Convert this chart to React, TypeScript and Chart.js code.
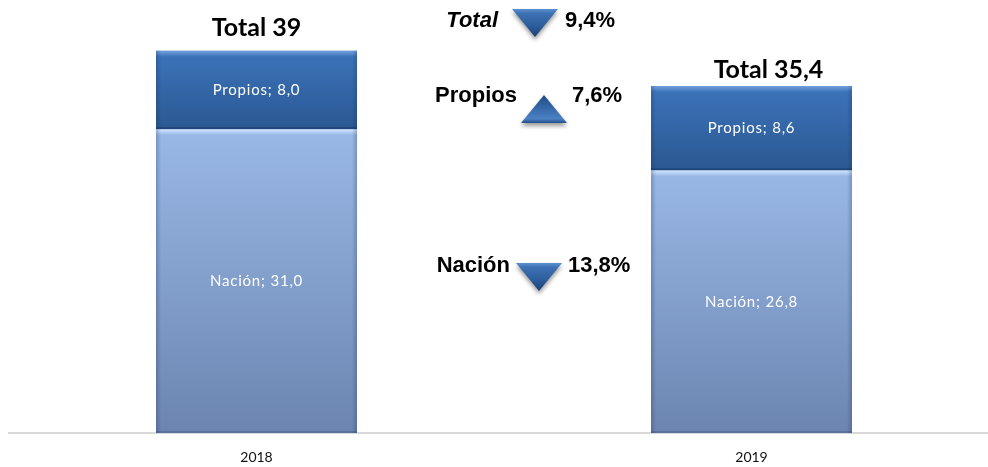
import React, { useEffect, useRef } from 'react';
import { Chart, registerables } from 'chart.js';

Chart.register(...registerables);

const years = ['2018', '2019'];
const nacion = [31.0, 26.8];
const propios = [8.0, 8.6];
const seriesNames = ['Nación', 'Propios'];
const changeLabels = ['Total', 'Propios', 'Nación'];
const changeValues = [-9.4, 7.6, -13.8];

const fmt = (v: number) => v.toFixed(1).replace('.', ',');
const fmtTotal = (v: number) => {
  const r = Math.round(v * 10) / 10;
  return Number.isInteger(r) ? String(r) : fmt(r);
};

const BAR_FONT = '"Lato", "Open Sans", sans-serif';
const ARIAL = '"Liberation Sans", Arial, sans-serif';

function drawTriangle(ctx: CanvasRenderingContext2D, cx: number, cy: number, up: boolean) {
  const w = 46, h = 28;
  const top = cy - h / 2, bot = cy + h / 2;
  ctx.save();
  ctx.beginPath();
  if (up) {
    ctx.moveTo(cx, top);
    ctx.lineTo(cx + w / 2, bot);
    ctx.lineTo(cx - w / 2, bot);
  } else {
    ctx.moveTo(cx - w / 2, top);
    ctx.lineTo(cx + w / 2, top);
    ctx.lineTo(cx, bot);
  }
  ctx.closePath();
  const g = ctx.createLinearGradient(0, top, 0, bot);
  if (up) {
    g.addColorStop(0, '#1f4a82');
    g.addColorStop(0.55, '#3a6eb0');
    g.addColorStop(0.85, '#4b80c2');
    g.addColorStop(1, '#234f8a');
  } else {
    g.addColorStop(0, '#5e90d0');
    g.addColorStop(0.15, '#3e72b4');
    g.addColorStop(0.6, '#2d5d9c');
    g.addColorStop(1, '#1a3f74');
  }
  ctx.shadowColor = 'rgba(0,0,0,0.4)';
  ctx.shadowBlur = 4;
  ctx.shadowOffsetY = 3;
  ctx.fillStyle = g;
  ctx.fill();
  ctx.restore();
}

const labelPlugin = {
  id: 'customLabels',
  afterDatasetsDraw(chart: any) {
    const ctx: CanvasRenderingContext2D = chart.ctx;
    const metas = chart.data.datasets.map((_: any, i: number) => chart.getDatasetMeta(i));

    metas.forEach((meta: any, di: number) => {
      meta.data.forEach((el: any, i: number) => {
        const left = el.x - el.width / 2;
        const top = Math.min(el.y, el.base);
        const bottom = Math.max(el.y, el.base);
        ctx.save();
        const hg = ctx.createLinearGradient(0, top, 0, top + 6);
        hg.addColorStop(0, di === 0 ? 'rgba(210,232,255,0.95)' : 'rgba(120,165,225,0.9)');
        hg.addColorStop(1, di === 0 ? 'rgba(210,232,255,0)' : 'rgba(120,165,225,0)');
        ctx.fillStyle = hg;
        ctx.fillRect(left, top, el.width, 6);
        ctx.fillStyle = di === 0 ? 'rgba(60,80,120,0.35)' : 'rgba(20,45,90,0.45)';
        ctx.fillRect(left, bottom - 2, el.width, 2);
        const sg = ctx.createLinearGradient(left, 0, left + 5, 0);
        sg.addColorStop(0, 'rgba(20,40,80,0.25)');
        sg.addColorStop(1, 'rgba(20,40,80,0)');
        ctx.fillStyle = sg;
        ctx.fillRect(left, top, 5, bottom - top);
        const sg2 = ctx.createLinearGradient(left + el.width, 0, left + el.width - 5, 0);
        sg2.addColorStop(0, 'rgba(20,40,80,0.25)');
        sg2.addColorStop(1, 'rgba(20,40,80,0)');
        ctx.fillStyle = sg2;
        ctx.fillRect(left + el.width - 5, top, 5, bottom - top);
        ctx.restore();

        const v = chart.data.datasets[di].data[i];
        ctx.save();
        ctx.fillStyle = '#ffffff';
        ctx.font = `15px ${BAR_FONT}`;
        (ctx as any).letterSpacing = '0.8px';
        ctx.textAlign = 'center';
        ctx.textBaseline = 'middle';
        ctx.fillText(`${seriesNames[di]}; ${fmt(v)}`, el.x, (top + bottom) / 2);
        ctx.restore();
      });
    });

    const totalOffsets = [{ dx: 0, dy: 23 }, { dx: 17, dy: 16 }];
    const lastMeta = metas[metas.length - 1];
    lastMeta.data.forEach((el: any, i: number) => {
      const total = nacion[i] + propios[i];
      const off = totalOffsets[i] || { dx: 0, dy: 20 };
      ctx.save();
      ctx.fillStyle = '#000000';
      ctx.font = `bold 25px ${BAR_FONT}`;
      ctx.textAlign = 'center';
      ctx.textBaseline = 'middle';
      ctx.fillText(`Total ${fmtTotal(total)}`, el.x + off.dx, el.y - off.dy);
      ctx.restore();
    });

    const rows = [
      { labelRight: 498, textY: 21, triX: 535, triY: 23, valueLeft: 565, italic: true },
      { labelRight: 517, textY: 96, triX: 544, triY: 109, valueLeft: 572, italic: false },
      { labelRight: 510, textY: 266, triX: 539, triY: 277, valueLeft: 568, italic: false },
    ];
    rows.forEach((r, i) => {
      ctx.save();
      ctx.fillStyle = '#000000';
      ctx.textBaseline = 'middle';
      ctx.font = `${r.italic ? 'italic ' : ''}bold 22px ${ARIAL}`;
      ctx.textAlign = 'right';
      ctx.fillText(changeLabels[i], r.labelRight, r.textY);
      ctx.font = `bold 22px ${ARIAL}`;
      ctx.textAlign = 'left';
      ctx.fillText(`${fmt(Math.abs(changeValues[i]))}%`, r.valueLeft, r.textY);
      ctx.restore();
      drawTriangle(ctx, r.triX, r.triY, changeValues[i] > 0);
    });
  },
};

function segGradient(ctx: any, stops: [string, string]) {
  const chart = ctx.chart;
  if (!chart.chartArea) return stops[0];
  const yScale = chart.scales.y;
  const i = ctx.dataIndex;
  const di = ctx.datasetIndex;
  let lo = 0, hi = 0;
  if (di === 0) { lo = 0; hi = nacion[i]; } else { lo = nacion[i]; hi = nacion[i] + propios[i]; }
  const yTop = yScale.getPixelForValue(hi);
  const yBot = yScale.getPixelForValue(lo);
  const g = chart.ctx.createLinearGradient(0, yTop, 0, yBot);
  g.addColorStop(0, stops[0]);
  g.addColorStop(1, stops[1]);
  return g;
}

export default function App() {
  const ref = useRef<HTMLCanvasElement | null>(null);

  useEffect(() => {
    if (!ref.current) return;
    const chart = new Chart(ref.current, {
      type: 'bar',
      data: {
        labels: years,
        datasets: [
          {
            label: seriesNames[0],
            data: nacion,
            backgroundColor: (c: any) => segGradient(c, ['#9ab8e6', '#6b85b0']),
            borderWidth: 0,
            barPercentage: 1,
            categoryPercentage: 0.406,
          },
          {
            label: seriesNames[1],
            data: propios,
            backgroundColor: (c: any) => segGradient(c, ['#3c74bb', '#2b5892']),
            borderWidth: 0,
            barPercentage: 1,
            categoryPercentage: 0.406,
          },
        ],
      },
      options: {
        animation: false,
        responsive: true,
        maintainAspectRatio: false,
        layout: { padding: { left: 9, right: 1, top: 41, bottom: 0 } },
        plugins: { legend: { display: false }, tooltip: { enabled: false } },
        scales: {
          x: {
            stacked: true,
            grid: { display: false, drawTicks: false },
            border: { display: true, color: '#d9d9d9', width: 2 },
            ticks: { color: '#111111', font: { family: 'Lato', size: 14 }, padding: 16 },
            afterFit: (s: any) => { s.height = 34; },
          },
          y: {
            stacked: true,
            display: false,
            min: 0,
            max: 40,
          },
        },
      },
      plugins: [labelPlugin],
    });
    return () => chart.destroy();
  }, []);

  return (
    <div style={{ position: 'absolute', left: 0, top: 0, width: 988, height: 467, overflow: 'hidden', background: '#fff' }}>
      <div style={{ position: 'relative', width: 1000, height: 467 }}>
        <canvas ref={ref} />
      </div>
    </div>
  );
}
